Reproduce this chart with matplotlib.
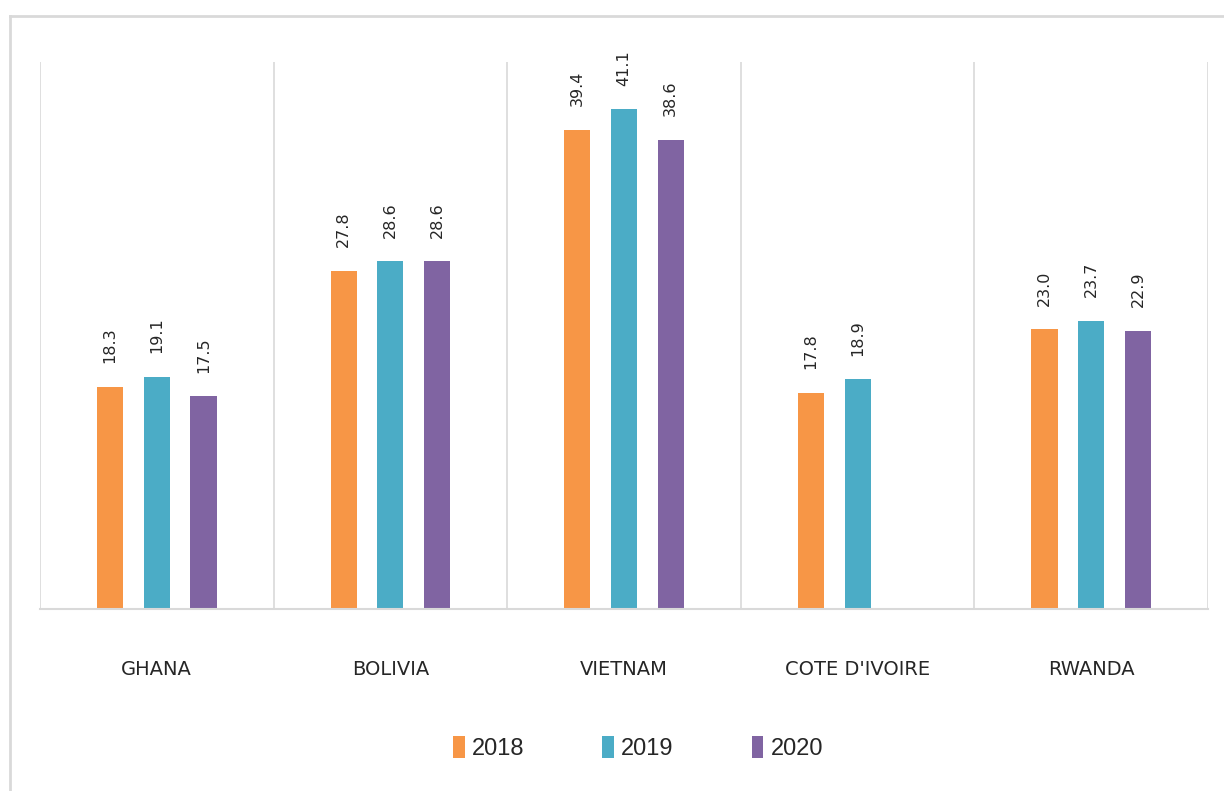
import matplotlib.pyplot as plt
import matplotlib.lines as mlines
import numpy as np

# 数据
countries = ['GHANA', 'BOLIVIA', 'VIETNAM', "COTE D'IVOIRE", 'RWANDA']
years = ['2018', '2019', '2020']
v2018 = [18.3, 27.8, 39.4, 17.8, 23.0]
v2019 = [19.1, 28.6, 41.1, 18.9, 23.7]
v2020 = [17.5, 28.6, 38.6, np.nan, 22.9]
colors = ['#F79646', '#4BACC6', '#8064A2']
grid_color = '#D9D9D9'

fig = plt.figure(figsize=(12.24, 7.91), dpi=100)
ax = fig.add_axes([40 / 1224, 1 - 609 / 791, 1168 / 1224, 547 / 791])

x = np.arange(len(countries))
for j, (vals, col, yr) in enumerate(zip([v2018, v2019, v2020], colors, years)):
    pos = x + (j - 1) * 0.2
    ax.bar(pos, vals, width=0.112, color=col, label=yr)
    for p, v in zip(pos, vals):
        if np.isnan(v):
            continue
        ax.annotate(f'{v:.1f}', (p, v), xytext=(0, 17), textcoords='offset points',
                    rotation=90, ha='center', va='bottom', fontsize=11.5, color='#262626')

ax.set_xlim(-0.5, len(countries) - 0.5)
ax.set_ylim(0, 45)
ax.set_yticks([])
ax.set_xticks(x)
ax.set_xticklabels(countries, fontsize=14, color='#262626')
ax.tick_params(axis='x', length=0, pad=37)

# 分隔线
for b in np.arange(len(countries) + 1) - 0.5:
    ax.axvline(b, color=grid_color, lw=1.2, zorder=0)
for s in ['top', 'right', 'left']:
    ax.spines[s].set_visible(False)
ax.spines['bottom'].set_color(grid_color)
ax.spines['bottom'].set_linewidth(1.5)

# 外框
fig.add_artist(mlines.Line2D([10 / 1224, 10 / 1224], [0, 1 - 16 / 791], color=grid_color, lw=2))
fig.add_artist(mlines.Line2D([10 / 1224, 1], [1 - 16 / 791, 1 - 16 / 791], color=grid_color, lw=2))

leg = fig.legend(loc='center', bbox_to_anchor=(638 / 1224, 1 - 748 / 791), ncol=3, frameon=False,
                 handlelength=0.5, handleheight=1.1, handletextpad=0.3,
                 columnspacing=3.3, prop={'family': 'Liberation Sans', 'size': 17})
for t in leg.get_texts():
    t.set_color('#262626')

fig.savefig('out.png', dpi=100)
